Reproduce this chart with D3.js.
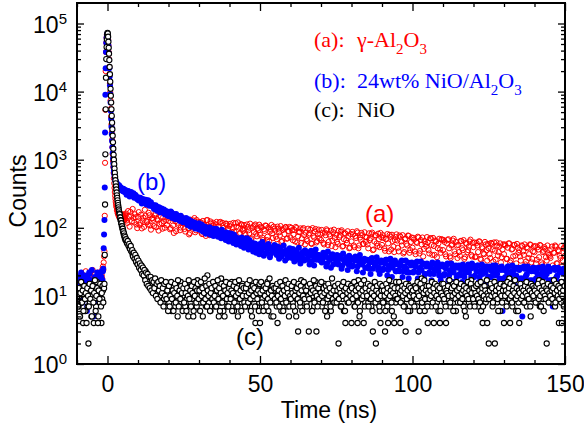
<!DOCTYPE html>
<html>
<head>
<meta charset="utf-8">
<script src="https://cdn.jsdelivr.net/npm/d3@7"></script>
<style>
  body { margin: 0; background: #fff; }
  text { fill: #000; }
</style>
</head>
<body>
<div id="chart"></div>
<script>
/* TCSPC decay curves, log counts vs time */
// channel layout of the data segments (ns); the "2" arrays are the in-between channels
const preStart = -10, preStep = 0.25;     // before the pulse
const peakStart = -1.0, peakStep = 0.1;   // rise and fast decay
const tailStart = 6, redStep = 0.5, blueStep = 0.5, blackStep = 0.25;

// (a) gamma-Al2O3
const redPre = [15, 12, 18, 10, 14, 20, 9, 16, 13, 11, 17, 4, 14, 19, 12, 15, 10, 22, 13, 16,
  11, 18, 14, 9, 21, 15, 12, 17, 13, 20, 16, 14, 22, 18, 27, 31];
const redPre2 = [13, 19, 11, 16, 8, 14, 21, 12, 17, 10, 15, 23, 13, 9, 18, 14, 11, 20, 16, 12,
  24, 15, 10, 17, 13, 19, 14, 22, 11, 16, 18, 13, 20, 25, 24, 38];
const redPeak = [45, 150, 900, 5400, 20000, 38000, 52000, 62000, 68000, 70000,
  69000, 66000, 58000, 48000, 38000, 30000, 23000, 17500, 13000, 9800,
  7400, 5600, 4300, 3300, 2500, 1950, 1520, 1200, 960, 780,
  640, 530, 450, 385, 335, 295, 265, 240, 222, 207,
  199, 181, 183, 165, 172, 156, 163, 149, 158, 141,
  152, 138, 147, 160, 133, 149, 141, 155, 136, 144,
  158, 131, 146, 139, 150, 128, 143, 137, 153, 134];
const redTail = [162, 118, 147, 171, 125, 139, 158, 112,
  145, 110, 156, 127, 103, 149, 121, 166, 108, 137,
  131, 152, 102, 128, 114, 146, 97, 124, 158, 110,
  126, 95, 141, 108, 133, 89, 119, 147, 101, 123,
  117, 88, 132, 99, 84, 125, 106, 139, 92, 113,
  98, 121, 81, 110, 92, 129, 103, 78, 116, 107,
  93, 112, 77, 104, 122, 85, 99, 73, 115, 96,
  106, 76, 98, 88, 117, 70, 101, 84, 111, 91,
  97, 71, 103, 83, 68, 99, 87, 112, 75, 92,
  79, 101, 66, 90, 107, 74, 63, 94, 83, 104,
  91, 68, 97, 77, 62, 93, 81, 103, 70, 88,
  72, 92, 80, 63, 99, 75, 86, 60, 95, 78,
  85, 64, 79, 94, 58, 76, 88, 61, 82, 70,
  66, 84, 57, 78, 91, 62, 75, 54, 86, 71,
  79, 58, 73, 88, 53, 68, 82, 60, 76, 51,
  63, 80, 52, 71, 85, 55, 67, 78, 58, 74,
  72, 50, 66, 81, 47, 63, 77, 54, 68, 84,
  56, 71, 46, 69, 59, 79, 48, 64, 44, 73,
  65, 45, 74, 55, 42, 68, 58, 77, 43, 62,
  51, 67, 41, 60, 72, 46, 57, 38, 64, 53,
  61, 42, 70, 40, 54, 65, 37, 59, 48, 68,
  47, 62, 38, 66, 50, 36, 57, 69, 41, 55,
  56, 39, 64, 47, 35, 60, 44, 53, 67, 38,
  52, 37, 60, 44, 63, 34, 50, 41, 57, 33,
  50, 36, 58, 32, 46, 61, 39, 53, 31, 48,
  41, 55, 35, 59, 31, 48, 38, 56, 30, 51,
  47, 33, 54, 40, 29, 52, 36, 57, 31, 45,
  44, 30, 52, 37, 55, 29, 46, 49, 33, 42,
  38, 48, 28, 43, 53, 30, 45, 36, 27, 50,
  39];
const redTail2 = [128, 176, 104, 151, 189, 120, 143, 99,
  170, 118, 98, 141, 184, 126, 112, 153, 94, 139,
  106, 163, 135, 91, 172, 117, 142, 100, 131, 168,
  139, 99, 150, 84, 125, 148, 110, 92, 145, 116,
  96, 134, 118, 80, 131, 102, 128, 86, 130, 121,
  120, 85, 126, 112, 76, 130, 95, 124, 88, 118,
  82, 122, 104, 120, 79, 118, 90, 115, 108, 74,
  114, 87, 118, 72, 104, 120, 81, 113, 96, 110,
  78, 112, 92, 115, 70, 105, 108, 82, 98, 111,
  104, 72, 95, 108, 66, 101, 88, 110, 71, 97,
  74, 104, 86, 106, 64, 98, 101, 69, 90, 103,
  100, 66, 93, 103, 61, 87, 98, 70, 99, 57,
  68, 97, 83, 59, 99, 72, 96, 64, 94, 80,
  93, 60, 85, 95, 56, 80, 91, 65, 94, 52,
  62, 90, 77, 92, 54, 84, 66, 89, 50, 81,
  87, 55, 76, 89, 50, 72, 84, 58, 86, 62,
  57, 83, 70, 85, 48, 78, 59, 82, 52, 73,
  78, 50, 68, 81, 45, 74, 79, 53, 66, 80,
  51, 77, 63, 78, 44, 70, 55, 76, 47, 72,
  71, 45, 62, 74, 42, 66, 72, 49, 58, 73,
  47, 70, 56, 71, 40, 63, 50, 69, 43, 67,
  66, 41, 59, 68, 38, 55, 65, 45, 62, 36,
  44, 64, 50, 66, 37, 58, 47, 63, 40, 60,
  61, 38, 55, 63, 35, 52, 42, 62, 47, 58,
  41, 60, 48, 61, 34, 55, 44, 59, 37, 57,
  57, 35, 51, 59, 33, 49, 56, 39, 58, 43,
  38, 55, 45, 57, 32, 50, 41, 56, 35, 53,
  54, 34, 48, 56, 31, 44, 52, 37, 55, 40,
  36, 53, 43, 55, 30, 47, 39, 54, 33, 51];

// (b) 24wt% NiO/Al2O3
const bluePre = [14, 11, 17, 9, 13, 20, 12, 8, 16, 14, 10, 19, 13, 6, 15, 12, 22, 11, 14, 9,
  17, 13, 5, 15, 12, 18, 10, 14, 21, 13, 16, 11, 19, 15, 23, 50];
const bluePre2 = [16, 12, 19, 10, 15, 22, 13, 17, 9, 14, 20, 11, 16, 7, 18, 13, 21, 12, 15, 24,
  10, 17, 14, 19, 8, 16, 22, 12, 18, 15, 20, 14, 23, 17, 25, 80];
const bluePeak = [130, 390, 2500, 9000, 22000, 38000, 52000, 62000, 68000, 70000,
  69000, 66000, 57000, 47000, 37000, 29000, 22000, 16500, 12300, 9200,
  6900, 5200, 3950, 3050, 2380, 1880, 1520, 1250, 1040, 880,
  780, 690, 625, 575, 540, 515, 495, 480, 468, 457,
  448, 436, 441, 418, 430, 405, 412, 398, 420, 392,
  385, 401, 372, 390, 366, 381, 359, 377, 352, 370,
  361, 344, 375, 350, 364, 339, 357, 346, 333, 352];
const blueTail = [356, 318, 341, 331, 299, 322, 306, 281,
  281, 254, 266, 262, 239, 258, 231, 249, 236, 214,
  216, 194, 207, 183, 199, 188, 170, 186, 174, 163,
  171, 152, 168, 155, 143, 160, 147, 139, 150, 129,
  137, 126, 119, 133, 114, 125, 108, 120, 111, 104,
  117, 101, 109, 96, 104, 89, 99, 102, 86, 93,
  97, 84, 91, 80, 87, 94, 76, 82, 85, 72,
  83, 70, 74, 79, 64, 71, 67, 58, 72, 60,
  69, 57, 62, 66, 53, 60, 49, 58, 55, 47,
  58, 46, 51, 55, 42, 49, 53, 41, 47, 50,
  49, 40, 45, 51, 38, 44, 42, 47, 36, 43,
  45, 36, 42, 39, 47, 34, 41, 38, 44, 33,
  42, 35, 39, 44, 32, 38, 41, 34, 40, 36,
  39, 32, 37, 41, 30, 36, 34, 40, 29, 35,
  37, 30, 35, 39, 28, 34, 31, 36, 29, 33,
  35, 28, 33, 37, 27, 31, 34, 29, 32, 26,
  33, 27, 31, 35, 25, 30, 28, 32, 26, 31,
  31, 25, 30, 34, 24, 28, 32, 26, 29, 23,
  30, 24, 28, 33, 23, 27, 25, 31, 22, 28,
  29, 23, 27, 32, 22, 26, 24, 30, 21, 27,
  28, 22, 26, 31, 21, 25, 29, 23, 27, 20,
  27, 21, 25, 30, 20, 24, 28, 22, 26, 19,
  26, 21, 24, 29, 19, 23, 27, 22, 25, 30,
  26, 20, 23, 28, 19, 24, 21, 27, 22, 25,
  25, 19, 23, 28, 20, 22, 26, 18, 24, 6,
  24, 19, 22, 27, 18, 23, 21, 26, 20, 25,
  24, 18, 5, 27, 19, 21, 25, 17, 23, 26,
  23, 18, 21, 26, 17, 22, 24, 19, 21, 27,
  23, 17, 7, 26, 18, 20, 24, 16, 22, 25,
  21];
const blueTail2 = [305, 348, 287, 335, 312, 276, 300, 262,
  251, 276, 228, 262, 243, 220, 254, 211, 238, 205,
  189, 215, 178, 201, 168, 192, 181, 158, 177, 150,
  148, 174, 139, 160, 133, 151, 145, 126, 141, 121,
  122, 139, 110, 128, 104, 121, 115, 98, 113, 96,
  94, 112, 88, 104, 82, 97, 92, 79, 95, 76,
  81, 96, 74, 89, 70, 83, 79, 66, 80, 63,
  66, 82, 60, 75, 57, 69, 63, 54, 67, 51,
  55, 70, 48, 63, 52, 45, 59, 43, 55, 41,
  48, 62, 39, 54, 44, 58, 37, 51, 45, 56,
  42, 53, 35, 48, 40, 55, 33, 46, 38, 50,
  37, 49, 32, 44, 36, 51, 30, 42, 35, 47,
  44, 34, 29, 46, 41, 28, 48, 37, 40, 33,
  31, 43, 39, 27, 45, 34, 26, 41, 37, 30,
  40, 29, 35, 25, 42, 32, 37, 24, 39, 28,
  27, 36, 38, 23, 33, 40, 30, 22, 35, 26,
  34, 25, 21, 36, 31, 28, 37, 24, 21, 33,
  24, 31, 34, 20, 27, 35, 19, 30, 33, 23,
  29, 23, 32, 19, 26, 33, 22, 18, 30, 31,
  22, 28, 31, 18, 25, 32, 29, 18, 21, 30,
  27, 21, 17, 30, 24, 28, 31, 20, 17, 29,
  20, 26, 29, 17, 23, 30, 16, 27, 28, 20,
  28, 20, 16, 27, 22, 15, 29, 26, 19, 28,
  19, 26, 28, 16, 22, 29, 25, 15, 27, 19,
  27, 19, 15, 26, 28, 21, 15, 25, 27, 18,
  18, 25, 27, 15, 21, 28, 24, 14, 26, 18,
  26, 18, 14, 25, 20, 27, 24, 14, 17, 26,
  17, 24, 26, 14, 20, 27, 13, 23, 25, 17,
  25, 17, 13, 24, 19, 26, 23, 13, 16, 25];

// (c) NiO
const blackPre = [9, 12, 7, 10, 5, 13, 8, 11, 4, 10, 14, 6, 9, 12, 7, 2, 11, 8, 15, 5,
  10, 13, 4, 9, 12, 7, 16, 10, 5, 11, 8, 13, 4, 9, 12, 15];
const blackPre2 = [10, 7, 13, 5, 11, 16, 8, 12, 6, 14, 9, 11, 4, 13, 10, 7, 15, 9, 12, 5,
  14, 8, 11, 17, 6, 10, 13, 4, 12, 9, 15, 7, 11, 14, 8, 13];
const blackPeak = [15, 40, 220, 1200, 5500, 16000, 30000, 45000, 58000, 68000,
  73000, 71000, 64000, 54000, 44000, 36000, 29000, 23000, 18000, 14000,
  11000, 8700, 6900, 5500, 4400, 3500, 2800, 2250, 1800, 1450,
  1180, 1000, 860, 740, 640, 560, 500, 450, 405, 365,
  330, 300, 275, 253, 233, 215, 200, 186, 174, 163,
  158, 143, 141, 129, 128, 117, 116, 106, 105, 97,
  97, 88, 89, 81, 83, 75, 77, 70, 73, 66];
const blackTail = [66, 63, 59, 61, 54, 51, 53, 46, 44, 40, 42, 37, 35, 38, 31, 33,
  29, 31, 26, 28, 24, 27, 22, 25, 21, 19, 23, 18, 20, 16, 19, 15,
  17, 14, 18, 15, 13, 16, 12, 17, 14, 11, 15, 13, 12, 16, 10, 13,
  12, 14, 9, 11, 15, 10, 13, 8,
  11, 8, 13, 10, 6, 12, 9, 14, 10, 7, 12, 11, 5, 9, 13, 10, 16, 8, 11, 9,
  12, 10, 7, 14, 9, 11, 5, 13, 10, 8, 15, 9, 12, 6, 11, 10, 13, 7, 17, 10,
  9, 12, 8, 11, 14, 5, 10, 13, 9, 7, 12, 20, 10, 8, 11, 6, 13, 9, 12, 10,
  14, 7, 11, 9, 12, 10, 5, 13, 8, 18, 10, 11, 6, 12, 9, 14, 10, 7, 13, 11,
  8, 12, 10, 16, 9, 11, 6, 13, 10, 7, 12, 5, 14, 9, 11, 10, 8, 15, 12, 9,
  11, 9, 13, 7, 10, 12, 8, 14, 6, 11, 10, 13, 9, 12, 4, 10, 7, 15, 11, 8,
  4, 12, 10, 9, 14, 7, 11, 13, 8, 10, 16, 6, 12, 9, 11, 5, 13, 10, 8, 12,
  10, 13, 7, 4, 11, 9, 14, 10, 6, 12, 8, 11, 15, 9, 10, 13, 7, 12, 5, 11,
  9, 12, 11, 8, 14, 10, 6, 13, 9, 11, 3, 12, 10, 7, 17, 9, 11, 8, 13, 10,
  12, 8, 10, 14, 3, 11, 9, 13, 6, 10, 12, 7, 11, 16, 3, 9, 12, 10, 8, 13,
  10, 7, 13, 9, 11, 15, 8, 12, 5, 10, 14, 9, 11, 6, 12, 10, 8, 13, 9, 11,
  13, 9, 11, 2, 10, 12, 7, 14, 9, 11, 6, 13, 4, 10, 12, 8, 15, 9, 11, 10,
  4, 11, 9, 13, 7, 10, 12, 8, 4, 17, 10, 6, 11, 9, 13, 10, 4, 12, 8, 11,
  10, 13, 8, 11, 9, 14, 7, 12, 3, 10, 11, 9, 2, 13, 8, 11, 10, 6, 4, 12,
  9, 12, 11, 8, 3, 13, 10, 7, 4, 11, 14, 9, 12, 6, 10, 13, 4, 11, 8, 12,
  11, 9, 13, 10, 4, 12, 8, 14, 9, 11, 7, 3, 10, 12, 15, 9, 11, 6, 13, 10,
  12, 8, 10, 14, 9, 11, 7, 13, 3, 10, 12, 9, 18, 8, 11, 10, 6, 13, 9, 11,
  4, 10, 13, 9, 11, 7, 12, 14, 4, 9, 11, 10, 8, 13, 6, 12, 4, 10, 11, 9,
  12, 10, 8, 13, 4, 11, 9, 14, 10, 7, 12, 11, 9, 15, 8, 10, 13, 6, 11, 10,
  9, 13, 11, 8, 12, 10, 14, 7, 11, 9, 5, 12, 10, 13, 8, 11, 9, 17, 10, 12,
  11, 8, 12, 10, 9, 13, 7, 11, 14, 10, 6, 12, 4, 9, 11, 13, 8, 10, 4, 12,
  2, 11, 9, 13, 10, 7, 12, 14, 2, 10, 11, 8, 13, 9, 12, 6, 11, 10, 15, 9,
  4, 12, 10, 8, 13, 11, 9, 18, 4, 10, 12, 7, 11, 9, 13, 10, 6, 12, 11, 8,
  4, 11, 13, 9, 10, 12, 8, 15, 10, 11, 7, 13, 9, 12, 10, 5, 11, 14, 9, 10,
  12, 9, 11, 13, 8, 10, 17, 7, 11, 10, 12, 9, 6, 13, 10, 11, 2, 12, 9, 10,
  10, 13, 8, 11, 9, 12, 14, 7, 10, 11, 9, 13, 4, 10, 12, 8, 4, 11, 10, 12,
  9];
const blackTail2 = [68, 60, 64, 55, 58, 49, 54, 45, 47, 38, 43, 35, 40, 32, 36, 29,
  33, 26, 30, 24, 28, 21, 26, 20, 24, 17, 22, 15, 21, 14, 19, 13,
  19, 12, 17, 11, 16, 13, 18, 10, 15, 9, 16, 12, 14, 8, 17, 11,
  13, 7, 15, 10, 16, 9, 12, 6,
  14, 7, 10, 16, 9, 12, 6, 11, 15, 8, 13, 10, 17, 7, 12, 9, 14, 11, 6, 13,
  8, 15, 11, 6, 13, 10, 17, 9, 12, 7, 14, 11, 5, 16, 10, 13, 8, 12, 15, 9,
  12, 6, 16, 10, 13, 8, 11, 18, 9, 14, 7, 12, 10, 15, 6, 11, 13, 9, 16, 8,
  10, 14, 7, 12, 17, 9, 13, 6, 11, 15, 8, 10, 14, 5, 12, 16, 9, 11, 7, 13,
  15, 9, 12, 6, 11, 14, 8, 16, 10, 13, 7, 11, 17, 9, 12, 6, 14, 10, 13, 8,
  7, 13, 10, 15, 8, 11, 17, 9, 12, 5, 14, 10, 13, 7, 16, 11, 9, 12, 6, 15,
  11, 16, 8, 12, 6, 14, 10, 13, 7, 15, 9, 11, 18, 8, 12, 10, 14, 5, 13, 9,
  13, 8, 15, 10, 12, 7, 16, 9, 11, 14, 6, 12, 10, 17, 8, 13, 11, 15, 7, 10,
  9, 14, 11, 7, 16, 10, 12, 5, 13, 9, 15, 11, 8, 14, 12, 6, 10, 16, 9, 13,
  12, 7, 14, 10, 9, 15, 11, 13, 6, 12, 17, 8, 11, 14, 10, 7, 13, 9, 15, 11,
  16, 10, 8, 13, 11, 6, 14, 12, 9, 15, 10, 13, 7, 11, 18, 9, 12, 8, 14, 10,
  8, 12, 15, 9, 13, 11, 7, 14, 10, 16, 12, 6, 13, 9, 11, 15, 8, 12, 10, 14,
  13, 9, 11, 16, 7, 12, 10, 14, 8, 13, 5, 11, 15, 9, 12, 10, 17, 7, 13, 11,
  10, 15, 7, 12, 14, 9, 11, 6, 13, 10, 16, 8, 12, 14, 9, 11, 7, 15, 10, 12,
  14, 8, 12, 10, 6, 15, 11, 13, 9, 17, 10, 12, 8, 14, 11, 5, 13, 10, 16, 9,
  9, 13, 16, 11, 8, 12, 14, 10, 7, 13, 11, 15, 9, 12, 6, 14, 10, 13, 8, 11,
  12, 10, 7, 14, 13, 9, 16, 11, 10, 6, 15, 12, 8, 13, 11, 17, 9, 12, 14, 7,
  11, 14, 9, 12, 10, 16, 8, 13, 11, 15, 7, 10, 14, 12, 9, 13, 6, 11, 15, 10,
  15, 9, 13, 7, 12, 11, 14, 10, 17, 8, 12, 13, 10, 6, 14, 11, 9, 16, 12, 8,
  10, 13, 8, 15, 11, 9, 12, 14, 6, 11, 13, 10, 16, 9, 12, 7, 15, 11, 13, 9,
  13, 7, 11, 14, 10, 15, 9, 12, 8, 16, 11, 13, 7, 10, 14, 12, 9, 17, 11, 10,
  9, 12, 15, 10, 13, 8, 11, 16, 10, 12, 14, 9, 6, 13, 11, 15, 10, 8, 12, 14,
  14, 10, 12, 7, 16, 11, 13, 9, 15, 10, 8, 12, 14, 11, 17, 9, 13, 10, 6, 12,
  11, 15, 9, 13, 10, 12, 8, 14, 11, 16, 10, 13, 9, 12, 7, 15, 11, 14, 10, 13,
  12, 8, 14, 11, 15, 9, 13, 10, 7, 12, 16, 11, 14, 10, 9, 13, 12, 15, 8, 11,
  10, 14, 12, 9, 13, 17, 11, 8, 15, 12, 10, 14, 9, 13, 11, 16, 10, 12, 7, 14];

// axis ticks and labels
const xTicks = [0, 50, 100, 150];
const yExponents = [0, 1, 2, 3, 4, 5];
const legendKeys = ["(a):", "(b):", "(c):"];
const legendNames = [["γ-Al", "2", "O", "3"], ["24wt% NiO/Al", "2", "O", "3"], ["NiO"]];
const curveTags = ["(a)", "(b)", "(c)"];
const colors = ["#ff0000", "#0000ff", "#000000"];

const sans = '"Liberation Sans", Arial, sans-serif',
    serif = '"Liberation Serif", "Times New Roman", serif';

const width = 584, height = 431,
    margin = ({ top: 3, right: 19, bottom: 67, left: 77 });

const svg = d3.select("#chart")
    .append("svg")
    .attr("width", width)
    .attr("height", height)
    .style("display", "block");

let x = d3.scaleLinear()
    .domain([-10, 150])
    .range([margin.left, width - margin.right]);

let y = d3.scaleLog()
    .domain([1, 2e5])
    .range([height - margin.bottom, margin.top]);

//turn a run of channel counts into points
function seg(values, start, step) {
    return values.map((v, i) => ({ t: start + i * step, v: v }));
}

const red = [...seg(redPre, preStart, preStep), ...seg(redPre2, preStart + preStep / 2, preStep),
    ...seg(redPeak, peakStart, peakStep),
    ...seg(redTail, tailStart, redStep), ...seg(redTail2, tailStart + redStep / 2, redStep)];
const blue = [...seg(bluePre, preStart, preStep), ...seg(bluePre2, preStart + preStep / 2, preStep),
    ...seg(bluePeak, peakStart, peakStep),
    ...seg(blueTail, tailStart, blueStep), ...seg(blueTail2, tailStart + blueStep / 2, blueStep)];
const black = [...seg(blackPre, preStart, preStep), ...seg(blackPre2, preStart + preStep / 2, preStep),
    ...seg(blackPeak, peakStart, peakStep),
    ...seg(blackTail, tailStart, blackStep), ...seg(blackTail2, tailStart + blackStep / 2, blackStep)];

svg.append("clipPath").attr("id", "plot-clip")
  .append("rect")
    .attr("x", x.range()[0])
    .attr("y", y.range()[1])
    .attr("width", x.range()[1] - x.range()[0])
    .attr("height", y.range()[0] - y.range()[1]);

const plot = svg.append("g").attr("clip-path", "url(#plot-clip)");

// red open rings first, blue dots over them, black open circles last
plot.append("g").selectAll("circle")
    .data(red)
    .join("circle")
    .attr("cx", d => x(d.t))
    .attr("cy", d => y(d.v))
    .attr("r", 2.6)
    .attr("fill", "none")
    .attr("stroke", colors[0])
    .attr("stroke-width", 1);

plot.append("g").selectAll("circle")
    .data(blue)
    .join("circle")
    .attr("cx", d => x(d.t))
    .attr("cy", d => y(d.v))
    .attr("r", 3)
    .attr("fill", colors[1]);

plot.append("g").selectAll("circle")
    .data(black)
    .join("circle")
    .attr("cx", d => x(d.t))
    .attr("cy", d => y(d.v))
    .attr("r", 2.6)
    .attr("fill", "#fff")
    .attr("stroke", colors[2])
    .attr("stroke-width", 1.1);

// axes, ticks pointing inward on all four sides
const y0 = y.range()[0], y1 = y.range()[1], x0 = x.range()[0], x1 = x.range()[1];
const xMinor = d3.range(-10, 151, 10).filter(d => !xTicks.includes(d));
const yMinor = [];
yExponents.slice(0, -1).forEach(e => { for (let k = 2; k <= 9; k++) yMinor.push(k * 10 ** e); });

function axisGroup(axis, tx, ty) {
    const g = svg.append("g")
      .attr("transform", `translate(${tx},${ty})`)
      .call(axis);
    g.select(".domain").remove();
    g.selectAll(".tick line").attr("stroke", "#000").attr("stroke-width", 1.3);
    return g;
}

const xb = axisGroup(d3.axisBottom(x).tickValues(xTicks).tickSize(-8).tickPadding(12), 0, y0);
xb.selectAll("text").style("font-size", "23px").style("font-family", sans).attr("fill", "#000");
axisGroup(d3.axisBottom(x).tickValues(xMinor).tickSize(-4).tickFormat(""), 0, y0);
axisGroup(d3.axisTop(x).tickValues(xTicks).tickSize(-8).tickFormat(""), 0, y1);
axisGroup(d3.axisTop(x).tickValues(xMinor).tickSize(-4).tickFormat(""), 0, y1);

const decades = yExponents.map(e => 10 ** e);
axisGroup(d3.axisLeft(y).tickValues(decades).tickSize(-7).tickFormat(""), x0, 0);
axisGroup(d3.axisLeft(y).tickValues(yMinor).tickSize(-4).tickFormat(""), x0, 0);
axisGroup(d3.axisRight(y).tickValues(decades).tickSize(-7).tickFormat(""), x1, 0);
axisGroup(d3.axisRight(y).tickValues(yMinor).tickSize(-4).tickFormat(""), x1, 0);

svg.append("rect")
    .attr("x", x0)
    .attr("y", y1)
    .attr("width", x1 - x0)
    .attr("height", y0 - y1)
    .attr("fill", "none")
    .attr("stroke", "#000")
    .attr("stroke-width", 2);

// y tick labels 10^n
yExponents.forEach(e => {
    const t = svg.append("text")
      .attr("x", x0 - 10)
      .attr("y", y(10 ** e) + 9)
      .attr("text-anchor", "end")
      .style("font-family", sans)
      .style("font-size", "23px");
    t.append("tspan").text("10");
    t.append("tspan").attr("dy", -9).style("font-size", "15px").text(e);
});

//axis titles
svg.append("text")
    .attr("text-anchor", "middle")
    .attr("x", 329)
    .attr("y", 418)
    .style("font-family", sans)
    .style("font-size", "23px")
    .text("Time (ns)");

svg.append("text")
    .attr("text-anchor", "middle")
    .attr("transform", "translate(26,191) rotate(-90)")
    .style("font-family", sans)
    .style("font-size", "23px")
    .text("Counts");

// legend in serif, chemical subscripts
const legendY = [47, 88, 117];
legendKeys.forEach((k, i) => {
    svg.append("text")
      .attr("x", 314)
      .attr("y", legendY[i])
      .style("font-family", serif)
      .style("font-size", "22px")
      .style("fill", colors[i])
      .text(k);
    const t = svg.append("text")
      .attr("x", 357)
      .attr("y", legendY[i])
      .style("font-family", serif)
      .style("font-size", "22px")
      .style("fill", colors[i]);
    legendNames[i].forEach((part, j) => {
        const sub = j % 2 === 1;
        t.append("tspan")
          .attr("dy", j === 0 ? 0 : (sub ? 7 : -7))
          .style("font-size", sub ? "15px" : "22px")
          .text(part);
    });
});

// curve tags next to the data
const tagPos = [[365, 222], [137, 190], [236, 345]];
curveTags.forEach((c, i) => {
    svg.append("text")
      .attr("x", tagPos[i][0])
      .attr("y", tagPos[i][1])
      .style("font-family", sans)
      .style("font-size", "24px")
      .style("fill", colors[i])
      .text(c);
});
</script>
</body>
</html>
